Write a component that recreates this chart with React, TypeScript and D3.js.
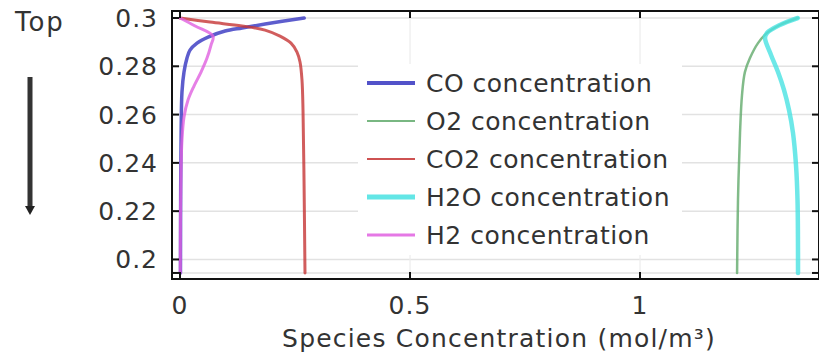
import React from "react";
import * as d3 from "d3";

// Heights along the column (m) and species concentrations (mol/m³)
const coHeight = [0.3, 0.2975, 0.2959, 0.2946, 0.2921, 0.2896, 0.2867, 0.2834, 0.2776, 0.2694, 0.2536, 0.23, 0.1944];
const coConc = [0.27, 0.185, 0.135, 0.098, 0.061, 0.037, 0.0217, 0.0152, 0.0087, 0.0043, 0.0025, 0.0015, 0.001];

const o2Height = [0.3, 0.2971, 0.2938, 0.2896, 0.2834, 0.2776, 0.2681, 0.2524, 0.2246, 0.1944];
const o2Conc = [1.343, 1.304, 1.276, 1.2565, 1.239, 1.228, 1.2217, 1.2174, 1.213, 1.211];

const co2Height = [0.3, 0.2983, 0.2967, 0.295, 0.2925, 0.2896, 0.2859, 0.2818, 0.2743, 0.2619, 0.2329, 0.1944];
const co2Conc = [0, 0.0652, 0.1348, 0.1848, 0.2174, 0.2413, 0.2543, 0.2609, 0.2652, 0.2674, 0.2696, 0.2717];

const h2oHeight = [0.3, 0.2971, 0.2938, 0.2917, 0.2847, 0.2776, 0.2702, 0.2619, 0.2524, 0.2391, 0.2246, 0.1944];
const h2oConc = [1.343, 1.304, 1.276, 1.2717, 1.2848, 1.3, 1.313, 1.3239, 1.3326, 1.3391, 1.3424, 1.3435];

const h2Height = [0.3, 0.2967, 0.2925, 0.2888, 0.2834, 0.2776, 0.2718, 0.266, 0.259, 0.2495, 0.237, 0.2164, 0.1944];
const h2Conc = [0, 0.033, 0.0717, 0.0674, 0.0587, 0.0457, 0.0304, 0.0174, 0.0087, 0.0043, 0.0022, 0.001, 0.0007];

const seriesNames = ["CO concentration", "O2 concentration", "CO2 concentration", "H2O concentration", "H2 concentration"];
const seriesColors = ["#3434c0", "#62aa6c", "#c63434", "#48e2e2", "#e060e0"];
const seriesWidths = [3.5, 2.5, 3, 4.5, 3];
const legendWidths = [4, 2, 2, 5, 3];

const yTicks = [0.2, 0.22, 0.24, 0.26, 0.28, 0.3];
const yTickLabels = ["0.2", "0.22", "0.24", "0.26", "0.28", "0.3"];
const yExtraTick = 0.1944;
const xTicks = [0, 0.5, 1];
const xTickLabels = ["0", "0.5", "1"];

const FONT = "'DejaVu Sans', Verdana, sans-serif";
const TXT = "#333";

export default function App() {
  const W = 819;
  const H = 354;
  const left = 172, right = 819, top = 11, bottom = 279;

  const x = d3.scaleLinear().domain([-0.0174, 1.3891]).range([left, right]);
  const y = d3.scaleLinear().domain([0.1919, 0.3029]).range([bottom, top]);

  const pairs = (c: number[], h: number[]) => c.map((v, i) => [v, h[i]] as [number, number]);
  const data = [
    pairs(coConc, coHeight),
    pairs(o2Conc, o2Height),
    pairs(co2Conc, co2Height),
    pairs(h2oConc, h2oHeight),
    pairs(h2Conc, h2Height),
  ];

  const line = d3
    .line<[number, number]>()
    .x((d) => x(d[0]))
    .y((d) => y(d[1]))
    .curve(d3.curveCatmullRom.alpha(0.5));

  const tickLen = 7;
  const legendX = 367;
  const legendY0 = 83;
  const legendStep = 38;

  return (
    <svg
      width={W}
      height={H}
      style={{ position: "absolute", left: 0, top: 0, background: "#fff" }}
      fontFamily={FONT}
    >
      <rect x={0} y={0} width={W} height={H} fill="#fff" />

      {/* grid */}
      {[...yTicks, yExtraTick].map((t) => (
        <line key={"gy" + t} x1={left} x2={right} y1={y(t)} y2={y(t)} stroke="#e2e2e2" strokeWidth={1.5} />
      ))}
      {xTicks.slice(1).map((t) => (
        <line key={"gx" + t} x1={x(t)} x2={x(t)} y1={top} y2={bottom} stroke="#ececec" strokeWidth={1.2} />
      ))}

      {/* curves */}
      <g fill="none" strokeLinecap="round" strokeLinejoin="round">
        {data.map((d, i) => (
          <path
            key={seriesNames[i]}
            d={line(d) || ""}
            stroke={seriesColors[i]}
            strokeWidth={seriesWidths[i]}
            strokeOpacity={0.8}
          />
        ))}
      </g>

      {/* frame and ticks */}
      <rect x={left} y={top} width={right - left} height={bottom - top} fill="none" stroke="#111" strokeWidth={2} />
      {[...yTicks, yExtraTick].map((t) => (
        <g key={"ty" + t} stroke="#111" strokeWidth={2}>
          <line x1={left} x2={left + tickLen} y1={y(t)} y2={y(t)} />
          <line x1={right} x2={right - tickLen} y1={y(t)} y2={y(t)} />
        </g>
      ))}
      {xTicks.map((t) => (
        <g key={"tx" + t} stroke="#111" strokeWidth={2}>
          <line x1={x(t)} x2={x(t)} y1={bottom} y2={bottom - tickLen} />
          <line x1={x(t)} x2={x(t)} y1={top} y2={top + tickLen} />
        </g>
      ))}

      {/* tick labels */}
      {yTicks.map((t, i) => (
        <text key={"ly" + t} x={158} y={y(t)} dy="0.36em" textAnchor="end" fontSize={25} fill={TXT} letterSpacing={1}>
          {yTickLabels[i]}
        </text>
      ))}
      {xTicks.map((t, i) => (
        <text key={"lx" + t} x={x(t)} y={305} dy="0.36em" textAnchor="middle" fontSize={25} fill={TXT} letterSpacing={1}>
          {xTickLabels[i]}
        </text>
      ))}
      <text x={499} y={338} dy="0.36em" textAnchor="middle" fontSize={25} fill={TXT} letterSpacing={1.2}>
        Species Concentration (mol/m³)
      </text>

      {/* direction marker */}
      <text x={15} y={22} dy="0.36em" fontSize={26} fill={TXT} letterSpacing={2}>
        Top
      </text>
      <line x1={30} x2={30} y1={77} y2={208} stroke="#333" strokeWidth={5} />
      <path d="M25,206 L35,206 L30,215 Z" fill="#222" />

      {/* legend */}
      <rect x={358} y={64} width={324} height={191} fill="#fff" />
      {seriesNames.map((n, i) => (
        <g key={"lg" + n}>
          <line
            x1={legendX}
            x2={legendX + 48}
            y1={legendY0 + i * legendStep}
            y2={legendY0 + i * legendStep}
            stroke={seriesColors[i]}
            strokeWidth={legendWidths[i]}
            strokeOpacity={0.85}
          />
          <text x={426} y={legendY0 + i * legendStep} dy="0.36em" fontSize={25} fill={TXT} letterSpacing={0.5}>
            {n}
          </text>
        </g>
      ))}
    </svg>
  );
}
